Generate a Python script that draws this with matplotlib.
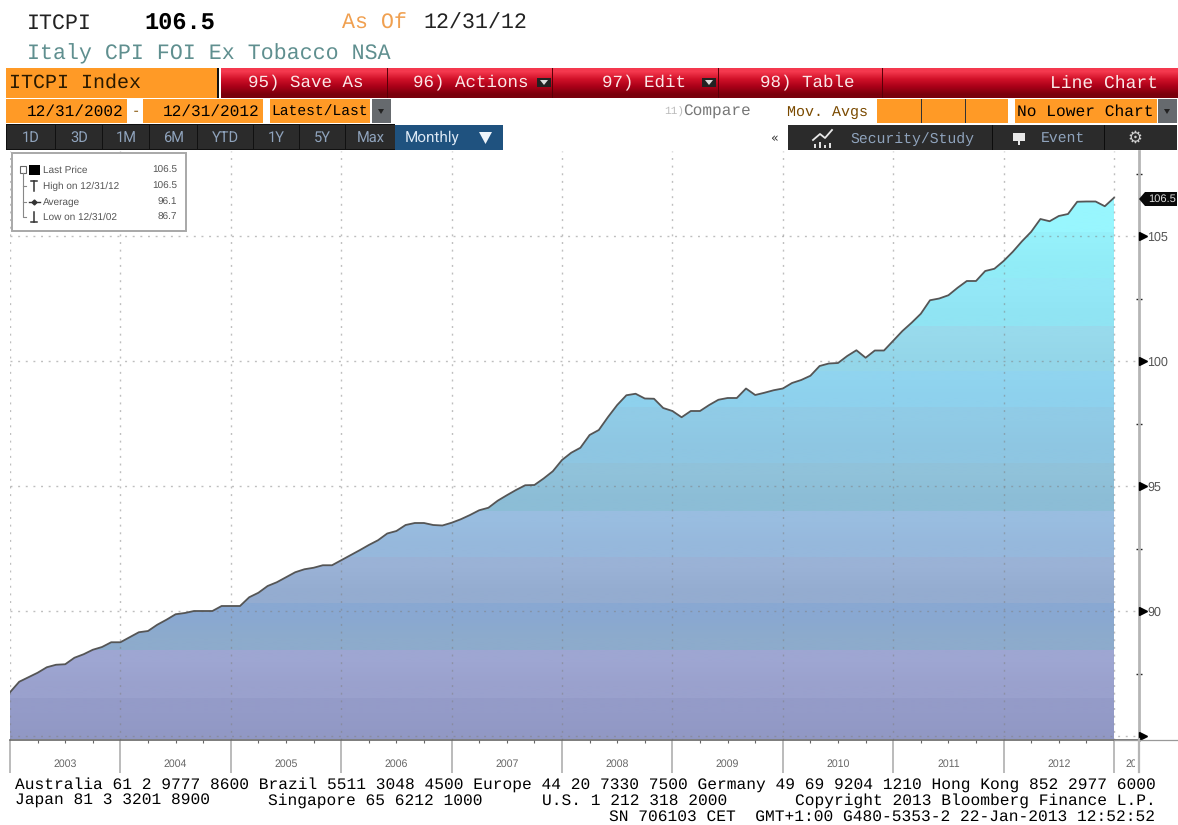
import numpy as np
import matplotlib
matplotlib.use('Agg')
import matplotlib.pyplot as plt
from matplotlib.patches import Rectangle, Polygon

# monthly index values, 12/31/2002 to 12/31/2012
values = [
    86.75, 87.17, 87.35, 87.53, 87.75, 87.85, 87.87, 88.13, 88.27, 88.45, 88.56, 88.75,
    88.75, 88.95, 89.15, 89.20, 89.45, 89.65, 89.87, 89.92, 90.00, 90.00, 90.00, 90.20,
    90.20, 90.20, 90.55, 90.73, 91.00, 91.15, 91.35, 91.55, 91.67, 91.73, 91.83, 91.83,
    92.03, 92.23, 92.43, 92.64, 92.83, 93.10, 93.20, 93.44, 93.52, 93.52, 93.44, 93.42,
    93.53, 93.67, 93.84, 94.03, 94.13, 94.41, 94.63, 94.84, 95.03, 95.04, 95.30, 95.59,
    96.04, 96.33, 96.53, 97.04, 97.24, 97.76, 98.24, 98.63, 98.69, 98.50, 98.49, 98.12,
    98.00, 97.75, 98.00, 98.00, 98.24, 98.45, 98.52, 98.52, 98.90, 98.64, 98.73, 98.83,
    98.90, 99.12, 99.24, 99.41, 99.80, 99.90, 99.92, 100.20, 100.43, 100.13, 100.42, 100.42,
    100.81, 101.20, 101.53, 101.89, 102.43, 102.50, 102.63, 102.93, 103.20, 103.20, 103.60, 103.69,
    104.00, 104.37, 104.79, 105.17, 105.68, 105.59, 105.80, 105.88, 106.37, 106.38, 106.38, 106.19,
    106.53,
]
years = ['2003', '2004', '2005', '2006', '2007', '2008', '2009', '2010', '2011', '2012']
y_ticks = [85, 90, 95, 100, 105]
y_labels = ['', '90', '95', '100', '105']
y_minor = [87.5, 92.5, 97.5, 102.5, 107.5]

# fill bands, bottom to top: upper edge in index points, colour low, colour high
band_edges = [84.0, 86.52, 88.44, 90.32, 92.16, 94.0, 95.92, 98.16, 99.6, 101.4, 103.32, 105.16, 109.0]
band_colors = [
    ('#9097C3', '#949BC8'), ('#9AA1CD', '#9EA6D2'), ('#8DABCC', '#89A8D2'), ('#94ACD0', '#9AB2D6'),
    ('#96B8DC', '#99BDE0'), ('#8CBDD6', '#90C2DA'), ('#8EC6E2', '#90CBE6'), ('#8ED1ED', '#90D4EF'),
    ('#94D6E9', '#98DAEC'), ('#90E4F3', '#94E8F7'), ('#91ECF7', '#95F0FA'), ('#98F6FE', '#9CFAFF'),
]

legend_rows = [
    ('Last Price', '106.5'),
    ('High on 12/31/12', '106.5'),
    ('Average', '96.1'),
    ('Low on 12/31/02', '86.7'),
]
footer_1 = 'Australia 61 2 9777 8600 Brazil 5511 3048 4500 Europe 44 20 7330 7500 Germany 49 69 9204 1210 Hong Kong 852 2977 6000'
footer_2 = [(15, 'Japan 81 3 3201 8900'), (268, 'Singapore 65 6212 1000'),
            (542, 'U.S. 1 212 318 2000'), (795, 'Copyright 2013 Bloomberg Finance L.P.')]
footer_3 = 'SN 706103 CET  GMT+1:00 G480-5353-2 22-Jan-2013 12:52:52'

MONO = 'Liberation Mono'
ORANGE = '#FF9A26'
W, H = 1178, 825

# keep the mono text widths linear in font size
plt.rcParams['text.hinting'] = 'no_hinting'
plt.rcParams['text.hinting_factor'] = 8

fig = plt.figure(figsize=(W / 100, H / 100), dpi=100, facecolor='white')

# chart
ax = fig.add_axes([10 / W, 1 - 739.5 / H, 1129 / W, 588.5 / H], facecolor='white')
months = np.arange(len(values))

area = ax.fill_between(months, 84, values, facecolor='none', edgecolor='none')
clip = area.get_paths()[0]
for lo, hi, (c1, c2) in zip(band_edges[:-1], band_edges[1:], band_colors):
    grad = matplotlib.colors.to_rgb(c2), matplotlib.colors.to_rgb(c1)
    im = ax.imshow(np.array(grad)[:, None, :], extent=(0, 120, lo, hi), aspect='auto',
                   interpolation='bilinear', zorder=1)
    im.set_clip_path(clip, transform=ax.transData)
ax.set_xlim(0, 1129 / 9.2)
ax.set_ylim(85 - 3.5 / 25, 85 + 585 / 25)
ax.plot(months, values, color='#555555', lw=1.3, zorder=3, solid_joinstyle='round')

dots = (0, (1.4, 4.1))
for k in range(0, 121, 12):
    ax.axvline(k, color='#7f7f7f', alpha=0.5, lw=1.0, ls=dots, zorder=2)
for t in y_ticks:
    ax.axhline(t, color='#7f7f7f', alpha=0.5, lw=1.0, ls=dots, zorder=2)

ax.set_xticks(np.arange(0, 121, 12), [''] * 11)
ax.set_xticks(np.arange(0, 121, 3), minor=True)
ax.tick_params(axis='x', which='major', length=24, width=1.3, color='#b5b5b5')
ax.tick_params(axis='x', which='minor', length=2, width=0.8, color='#666666')
ax.yaxis.tick_right()
ax.set_yticks(y_ticks, y_labels)
ax.set_yticks(y_minor, minor=True)
ax.tick_params(axis='y', which='major', length=0, pad=6, labelsize=9, labelcolor='#555555')
ax.tick_params(axis='y', which='minor', length=4, width=1, direction='inout', color='#222222')
for lab in ax.get_yticklabels():
    lab.set_fontfamily('Liberation Sans')
ax.plot([1.0035] * len(y_ticks), y_ticks, marker='>', ms=6, mfc='black', mec='black', ls='none',
        transform=ax.get_yaxis_transform(), clip_on=False, zorder=6)
for side in ['left', 'top']:
    ax.spines[side].set_visible(False)
ax.spines['right'].set_color('#b5b5b5')
ax.spines['right'].set_linewidth(2)
ax.spines['bottom'].set_color('#666666')
ax.spines['bottom'].set_linewidth(1.2)

# everything else is laid out in pixels on a full-figure overlay
ov = fig.add_axes([0, 0, 1, 1], facecolor='none', zorder=5)
ov.set_xlim(0, W)
ov.set_ylim(H, 0)
ov.axis('off')


def box(x0, y0, x1, y1, color, **kw):
    ov.add_patch(Rectangle((x0, y0), x1 - x0, y1 - y0, facecolor=color, edgecolor='none', **kw))


def txt(x, y, s, size, color='black', family=MONO, ha='left', **kw):
    return ov.text(x, y, s, fontsize=size, color=color, family=family, ha=ha, va='center', **kw)


# header
txt(27, 23, 'ITCPI', 15.6, '#222222')
txt(144, 23, '106.5', 17, 'black', weight='bold')
txt(342, 23, 'As Of', 15.6, '#F0A050')
txt(423, 23, '12/31/12', 15.6, '#222222')
txt(27, 54, 'Italy CPI FOI Ex Tobacco NSA', 15.6, '#5F8F8F')

# red toolbar
red = np.array([matplotlib.colors.to_rgb(c) for c in ['#F4384E', '#D01028', '#A80018', '#7A000C']])
ov.imshow(red[:, None, :], extent=(221, W, 98, 68), aspect='auto', interpolation='bilinear')
ov.set_xlim(0, W)
ov.set_ylim(H, 0)
box(6, 68, 217, 98, ORANGE)
box(217, 68, 219, 98, '#111111')
for x in [387, 552, 718, 882]:
    box(x, 68, x + 1, 98, '#5a0008')
txt(9, 83, 'ITCPI Index', 14.4, '#2a1a00')
txt(248, 82, '95) Save As', 12.6, '#FBE8E8')
txt(413, 82, '96) Actions', 12.6, '#FBE8E8')
txt(602, 82, '97) Edit', 12.6, '#FBE8E8')
txt(760, 82, '98) Table', 12.6, '#FBE8E8')
txt(1158, 83, 'Line Chart', 13, '#FBE8E8', ha='right')
for x in [537, 702]:
    box(x, 78, x + 14, 87, '#222222')
    ov.add_patch(Polygon([(x + 3, 80), (x + 11, 80), (x + 7, 85)], facecolor='#dddddd'))

# second row
for x0, x1 in [(6, 127), (143, 263), (270, 370), (877, 1008), (1015, 1157)]:
    box(x0, 99, x1, 123, ORANGE)
for x in [921, 965]:
    box(x, 99, x + 1, 123, '#333333')
box(372, 99, 391, 123, '#666a6e')
box(1158, 99, 1177, 123, '#666a6e')
for x in [381, 1167]:
    ov.add_patch(Polygon([(x - 3, 109), (x + 3, 109), (x, 114)], facecolor='#222222'))
txt(27, 112, '12/31/2002', 11.6)
txt(132, 112, '-', 10, '#8a5a10')
txt(163, 112, '12/31/2012', 11.6)
txt(271, 112, 'Latest/Last', 10.5)
txt(664, 112, '11)', 8, '#bbbbbb')
txt(683, 112, 'Compare', 11.6, '#777777')
txt(787, 112, 'Mov. Avgs', 10.8, '#7a4a00')
txt(1017, 112, 'No Lower Chart', 11.7)

# third row
box(6, 124, 395, 150, '#111111')
for x0, x1, s in [(7, 55, '1D'), (56, 102, '3D'), (103, 149, '1M'), (150, 197, '6M'),
                  (198, 253, 'YTD'), (254, 299, '1Y'), (300, 345, '5Y'), (346, 395, 'Max')]:
    box(x0, 125, x1, 149, '#2b2b2b')
    txt((x0 + x1) / 2, 138, s, 10.5, '#8FA3BC', family='Roboto', ha='center')
box(395, 125, 503, 150, '#1F527F')
txt(405, 138, 'Monthly', 11, '#DCE8F4', family='Roboto')
ov.add_patch(Polygon([(479, 132), (492, 132), (485.5, 144)], facecolor='#eef4fa'))
txt(774, 138, '«', 9, '#333333', family='DejaVu Sans', ha='center')
box(788, 125, 1177, 150, '#2b2b2b')
for x in [992, 1104]:
    box(x, 125, x + 1, 150, '#0c0c0c')
txt(850, 139, 'Security/Study', 10.6, '#8FA3BC')
txt(1041, 139, 'Event', 10.6, '#8FA3BC')
txt(1135, 138, '\u2699', 12, '#d0d0d0', family='DejaVu Sans', ha='center')
ov.plot([813, 820, 825, 832], [140, 134, 138, 130], color='#e8e8e8', lw=1.3)
for x, h in [(814, 4), (819, 6), (824, 3), (829, 5)]:
    box(x, 148 - h, x + 2, 148, '#e0e0e0')
box(1013, 133, 1025, 141, '#e8e8e8')
box(1018, 141, 1020, 145, '#e8e8e8')

# legend
ov.add_patch(Rectangle((11.5, 153), 174, 78, facecolor='white', edgecolor='#a8a8a8', lw=1.4, zorder=7))
for (label, val), y in zip(legend_rows, [170, 186, 202, 217]):
    txt(43, y, label, 7.2, '#555555', family='Liberation Sans', zorder=8)
    txt(177, y, val, 7.2, '#555555', family='Liberation Sans', ha='right', zorder=8)
ov.add_patch(Rectangle((19.5, 166), 6, 7, facecolor='white', edgecolor='#666666', lw=0.8, zorder=8))
box(29, 165, 40, 175, 'black', zorder=8)
ov.plot([22.5, 22.5, 26], [173, 217, 217], color='#888888', lw=0.8, zorder=8)
for y in [186, 202]:
    ov.plot([22.5, 26], [y, y], color='#888888', lw=0.8, zorder=8)
ov.plot([34, 34], [181, 191], color='#333333', lw=1.1, zorder=8)
ov.plot([31, 37], [181, 181], color='#333333', lw=1.1, zorder=8)
ov.plot([29, 40], [202, 202], color='#333333', lw=1, zorder=8)
ov.plot([34], [202], marker='D', ms=2.5, color='#333333', zorder=8)
ov.plot([34, 34], [212, 222], color='#333333', lw=1.1, zorder=8)
ov.plot([31, 37], [222, 222], color='#333333', lw=1.1, zorder=8)

# last price tag
ov.add_patch(Polygon([(1139, 199), (1145, 192), (1177, 192), (1177, 206), (1145, 206)], facecolor='#0a0a0a'))
txt(1176, 199.5, '106.5', 8, '#dddddd', family='Liberation Sans', ha='right')

# below the axis
ov.plot([1114, W], [739.5, 739.5], color='#999999', lw=0.9)
ov.plot([1139, 1139], [739, 772], color='#b5b5b5', lw=1.6)
for i, y in enumerate(years):
    x_mid = ax.transData.transform((6 + 12 * i, 85))[0]
    txt(x_mid, 764, y, 7.6, '#666666', family='Liberation Sans', ha='center')
t13 = txt(1125, 764, '2013', 7.6, '#666666', family='Liberation Sans', clip_on=True)
t13.set_clip_path(Rectangle((1120, 750), 15, 25, transform=ov.transData))

# footer
txt(15, 785, footer_1, 11.7)
for x, s in footer_2:
    txt(x, 801, s, 11.7)
txt(1155, 817, footer_3, 11.7, ha='right')

fig.savefig('out.png', dpi=100)
